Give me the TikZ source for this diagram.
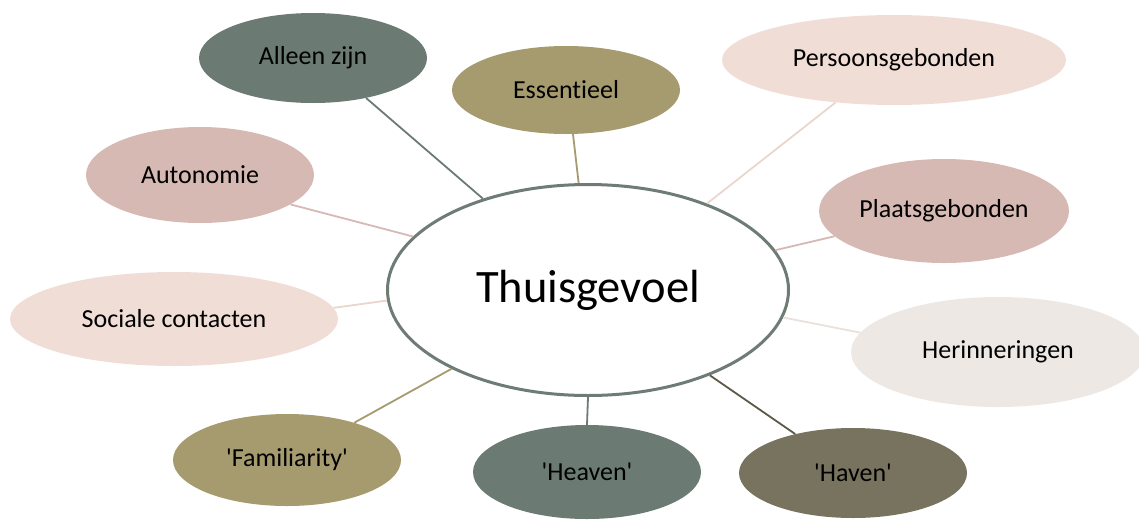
\documentclass[tikz,border=0pt]{standalone}
\usepackage{fontspec}
\setmainfont{Carlito}[Ligatures={TeXOff,CommonOff}]
\usetikzlibrary{shapes.geometric}
\definecolor{cgreen}{HTML}{6B7A73}
\definecolor{ckhaki}{HTML}{A69A6F}
\definecolor{cpink}{HTML}{D7B9B3}
\definecolor{clpink}{HTML}{F0DED6}
\definecolor{clight}{HTML}{EEE8E4}
\definecolor{colive}{HTML}{78735F}
\definecolor{cborder}{HTML}{6E7C75}
\definecolor{lpinkline}{HTML}{EAD6CD}
\definecolor{llightline}{HTML}{E9E1DC}
\definecolor{olivelin}{HTML}{5E5947}
\tikzset{
  leaf/.style={ellipse, inner sep=0pt, draw=none, font=\fontsize{26}{31}\selectfont, text=black},
  hub/.style={ellipse, inner sep=0pt, draw=cborder, line width=3pt, fill=white, font=\fontsize{46.5}{56}\selectfont},
  link/.style={line width=1.8pt}
}
\begin{document}
\begin{tikzpicture}[x=1pt,y=-1pt]
\useasboundingbox (0,0) rectangle (1139,520);
\node[hub, minimum width=401pt, minimum height=211pt] (c) at (588,290) {Thuisgevoel};
\node[leaf, fill=cgreen, minimum width=228pt, minimum height=90pt] (alleen) at (313,58) {Alleen zijn};
\node[leaf, fill=ckhaki, minimum width=228pt, minimum height=88pt] (ess) at (566,90) {Essentieel};
\node[leaf, fill=clpink, minimum width=344pt, minimum height=90pt] (pers) at (894,60) {Persoonsgebonden};
\node[leaf, fill=cpink, minimum width=228pt, minimum height=96pt] (auto) at (200,175) {Autonomie};
\node[leaf, fill=cpink, minimum width=250pt, minimum height=104pt] (plaats) at (944,211) {Plaatsgebonden};
\node[leaf, fill=clpink, minimum width=328pt, minimum height=94pt] (soc) at (174,319) {Sociale contacten};
\node[leaf, fill=clight, minimum width=294pt, minimum height=110pt] (her) at (998,352) {Herinneringen};
\node[leaf, fill=ckhaki, minimum width=228pt, minimum height=92pt] (fam) at (287,460) {'Familiarity'};
\node[leaf, fill=cgreen, minimum width=228pt, minimum height=94pt] (heaven) at (587,472) {'Heaven'};
\node[leaf, fill=colive, minimum width=228pt, minimum height=90pt] (haven) at (853,473) {'Haven'};
\draw[link, draw=cgreen] (alleen.-37.6) -- (c.139.3);
\draw[link, draw=ckhaki] (ess.-81.5) -- (c.95.9);
\draw[link, draw=lpinkline] (pers.216.6) -- (c.36.3);
\draw[link, draw=cpink] (auto.-18.1) -- (c.163.3);
\draw[link, draw=cpink] (plaats.193.3) -- (c.12.7);
\draw[link, draw=lpinkline] (soc.4.2) -- (c.183.7);
\draw[link, draw=llightline] (her.172.6) -- (c.-8.9);
\draw[link, draw=ckhaki] (fam.29.7) -- (c.210);
\draw[link, draw=cgreen] (heaven.90) -- (c.270);
\draw[link, draw=olivelin] (haven.146.1) -- (c.-35.4);
\end{tikzpicture}
\end{document}
